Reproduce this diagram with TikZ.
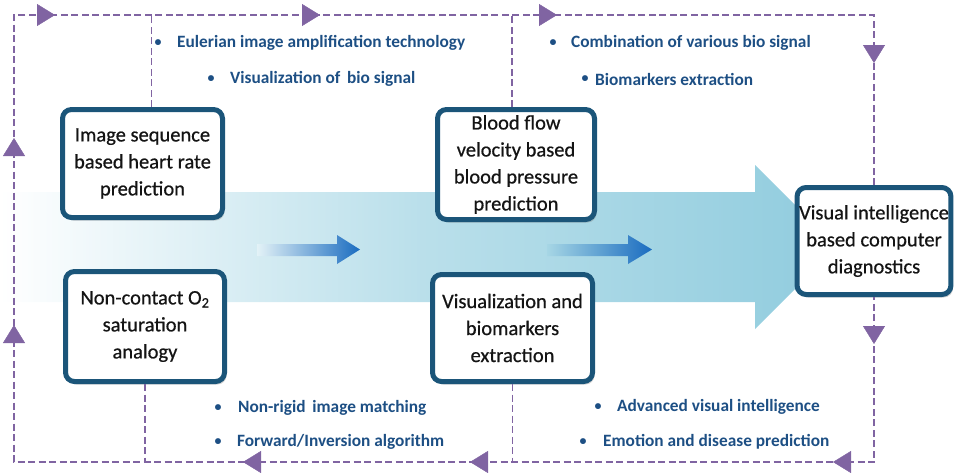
\documentclass[tikz,border=0pt]{standalone}
\usepackage{fontspec}
\setmainfont{Carlito}
\usetikzlibrary{arrows.meta,shadows}
\definecolor{loopc}{HTML}{8064A2}
\definecolor{boxc}{HTML}{1B5579}
\definecolor{boxin}{HTML}{8FAABB}
\definecolor{bigc}{HTML}{90CCDE}
\definecolor{smallc}{HTML}{1A6CC0}
\definecolor{labc}{HTML}{1D4F84}
\tikzset{
  nodebox/.style={draw=boxc, line width=5pt, rounded corners=9pt, fill=white,
    align=center, inner sep=2pt, font=\addfontfeature{FakeBold=0.6}\fontsize{20.5}{27}\selectfont, text=black!92,
    drop shadow={shadow xshift=2pt, shadow yshift=-3pt, opacity=0.35},
    append after command={
      [draw=boxin, line width=1pt, rounded corners=6.5pt]
      ([xshift=3pt,yshift=-3pt]\tikzlastnode.north west) rectangle
      ([xshift=-3pt,yshift=3pt]\tikzlastnode.south east)}
  },
  loopline/.style={draw=loopc, line width=1.8pt, dash pattern=on 7pt off 3.5pt},
  looptip/.style={draw=loopc, fill=loopc, line width=0.4pt, -{Triangle[length=18pt,width=22pt]}},
  lab/.style={anchor=west, inner sep=0pt, text=labc, font=\bfseries\fontsize{17.3}{19}\selectfont},
  bul/.style={anchor=center, inner sep=0pt, text=labc, font=\bfseries\fontsize{14}{16}\selectfont}
}
\begin{document}
\begin{tikzpicture}[x=1pt,y=-1pt]
\useasboundingbox (0,0) rectangle (959,472);
% big background arrow
\shade[left color=white, right color=bigc, middle color=bigc!62]
  (0,192) -- (755,192) -- (755,165) -- (837,247) -- (755,329) -- (755,302) -- (0,302) -- cycle;
% small arrows
\shade[left color=bigc!25, right color=smallc]
  (257,244) -- (337,244) -- (337,235) -- (360,249.5) -- (337,264) -- (337,256) -- (257,256) -- cycle;
\shade[left color=bigc!80, right color=smallc]
  (547,244) -- (628,244) -- (628,235) -- (652,249.5) -- (628,264) -- (628,256) -- (547,256) -- cycle;

% boxes
\node[nodebox, minimum width=160pt, minimum height=108pt] (b1) at (142.5,163.5)
  {Image sequence\\based heart rate\\prediction};
\node[nodebox, minimum width=159pt, minimum height=110pt] (b2) at (145,326.5)
  {Non-contact O\textsubscript{2}\\saturation\\analogy};
\node[nodebox, minimum width=157pt, minimum height=110pt] (b3) at (516,164.5)
  {Blood flow\\velocity based\\blood pressure\\prediction};
\node[nodebox, minimum width=160pt, minimum height=107pt] (b4) at (512.5,328)
  {Visualization and\\biomarkers\\extraction};
\node[nodebox, minimum width=153pt, minimum height=107pt] (b5) at (874,241)
  {Visual intelligence\\based computer\\diagnostics};

% loop
\coordinate (tr) at (874,15);
\coordinate (tl) at (14,15);
\coordinate (bl) at (14,462);
\coordinate (br) at (874,462);
\draw[loopline] (b5.north) -- (tr) -- (tl) -- (bl) -- (br) -- (b5.south);
\draw[loopline] ([xshift=9pt]b1.north) -- ([xshift=9pt]b1.north |- tl);
\draw[loopline] ([xshift=-4pt]b3.north) -- ([xshift=-4pt]b3.north |- tl);
\draw[loopline] (b2.south) -- (b2.south |- bl);
\draw[loopline] (b4.south) -- (b4.south |- bl);

% loop arrow tips
\draw[looptip] (53,15) -- (55,15);
\draw[looptip] (318,15) -- (320,15);
\draw[looptip] (555,15) -- (557,15);
\draw[looptip] (874,61) -- (874,63);
\draw[looptip] (874,342) -- (874,344);
\draw[looptip] (835,462) -- (833,462);
\draw[looptip] (472,462) -- (470,462);
\draw[looptip] (245,462) -- (243,462);
\draw[looptip] (14,327) -- (14,325);
\draw[looptip] (14,140) -- (14,138);

% labels
\node[bul] (u1) at (158,43) {\textbullet};
\node[lab] (t1) at (177,43) {Eulerian image amplification technology};
\node[bul] (u2) at (211,79) {\textbullet};
\node[lab] (t2) at (230,79) {Visualization of\, bio signal};
\node[bul] (u3) at (553,43) {\textbullet};
\node[lab] (t3) at (571,43) {Combination of various bio signal};
\node[bul] (u4) at (585,79) {\textbullet};
\node[lab] (t4) at (595,79) {Biomarkers extraction};
\node[bul] (u5) at (218,408) {\textbullet};
\node[lab] (t5) at (238,408) {Non-rigid\, image matching};
\node[bul] (u6) at (218,442) {\textbullet};
\node[lab] (t6) at (237,442) {Forward/Inversion algorithm};
\node[bul] (u7) at (598,407) {\textbullet};
\node[lab] (t7) at (617,407) {Advanced visual intelligence};
\node[bul] (u8) at (583,442) {\textbullet};
\node[lab] (t8) at (603,442) {Emotion and disease prediction};
\end{tikzpicture}
\end{document}
